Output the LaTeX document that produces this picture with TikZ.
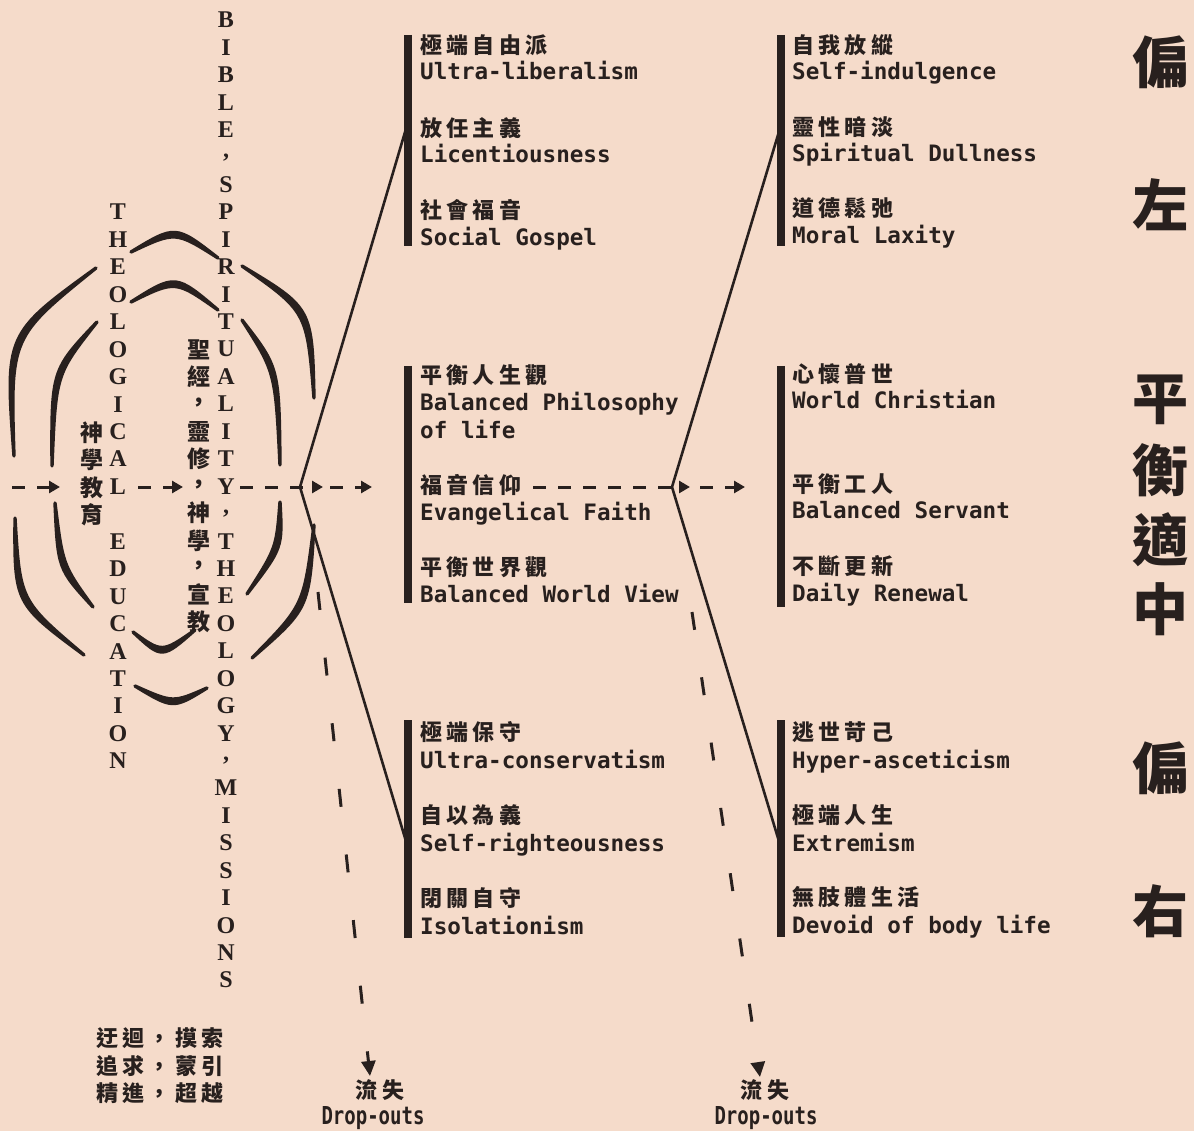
\documentclass[tikz,border=0pt]{standalone}
\usepackage{fontspec}
\usetikzlibrary{arrows.meta}
\setmainfont{Liberation Serif}
\newfontfamily\cjk{Noto Sans CJK TC}
\newfontfamily\cjkl{Noto Sans CJK TC}[LetterSpace=20]
\newfontfamily\mono{DejaVu Sans Mono}
\definecolor{paper}{RGB}{245,219,202}
\definecolor{ink}{RGB}{40,32,30}
\newcommand\zcomma{,}
\begin{document}
\begin{tikzpicture}[x=1pt,y=-1pt,
  capl/.style={font={\bfseries\fontsize{24}{24}\selectfont}, text=ink, inner sep=0pt},
  zhv/.style={font={\cjk\bfseries\fontsize{23}{23}\selectfont}, text=ink, inner sep=0pt},
  zh/.style={font={\cjkl\bfseries\fontsize{22}{22}\selectfont}, text=ink, inner sep=0pt, anchor=west},
  zhc/.style={font={\cjkl\bfseries\fontsize{22}{22}\selectfont}, text=ink, inner sep=0pt},
  en/.style={font={\mono\bfseries\fontsize{22.6}{22}\selectfont}, text=ink, inner sep=0pt, anchor=base west},
  big/.style={font={\cjk\bfseries\fontsize{56}{56}\selectfont}, text=ink, inner sep=0pt},
  dro/.style={font={\mono\bfseries\fontsize{19}{19}\selectfont}, text=ink, inner sep=0pt},
  barline/.style={line width=8pt, draw=ink},
  vline/.style={line width=2.6pt, draw=ink},
  hd/.style={line width=3pt, draw=ink, dash pattern=on 13pt off 12pt, -{Triangle[length=11pt,width=12pt]}},
  dd/.style={line width=3pt, draw=ink, dash pattern=on 18pt off 48pt, -{Triangle[length=15pt,width=14pt]}},
  brush/.style={fill=ink, draw=ink, line width=3.4pt, line join=round, line cap=round},
]
\fill[paper] (0,0) rectangle (1194,1131);
\useasboundingbox (0,0) rectangle (1194,1131);

% ---- vertical Latin columns
\foreach \c [count=\i from 0] in {T,H,E,O,L,O,G,I,C,A,L}
  \node[capl] (te\i) at (118,212+27.45*\i) {\c};
\foreach \c [count=\i from 0] in {E,D,U,C,A,T,I,O,N}
  \node[capl] (ed\i) at (118,541.4+27.45*\i) {\c};
\foreach \c [count=\i from 0] in {B,I,B,L,E,\zcomma,S,P,I,R,I,T,U,A,L,I,T,Y,\zcomma,T,H,E,O,L,O,G,Y,\zcomma,M,I,S,S,I,O,N,S}
  \node[capl] (bb\i) at (226,20+27.43*\i) {\c};

% ---- vertical Chinese columns
\foreach \c [count=\i from 0] in {神,學,教,育}
  \node[zhv] (sx\i) at (92,433+27.2*\i) {\c};
\foreach \c [count=\i from 0] in {聖,經,，,靈,修,，,神,學,，,宣,教}
  \node[zhv] (sj\i) at (199,350+27.2*\i) {\c};

% ---- brush arcs
\fill[brush] (131,252) .. controls (175.5,225) .. (218,258) .. controls (175.5,231) .. (131,252) -- cycle;
\fill[brush] (131,302) .. controls (175.5,274) .. (218,310) .. controls (175.5,280) .. (131,302) -- cycle;
\fill[brush] (133,632) .. controls (162,659) .. (195,630) .. controls (162,653) .. (133,632) -- cycle;
\fill[brush] (135,686) .. controls (173,709) .. (207,688) .. controls (173,703) .. (135,686) -- cycle;
\fill[brush] (96,268) .. controls (5,334) .. (14,456) .. controls (10.3,337) .. (96,268) -- cycle;
\fill[brush] (97,322) .. controls (51.5,370) .. (52,466) .. controls (55.7,374.3) .. (97,322) -- cycle;
\fill[brush] (15,518) .. controls (14.5,603.5) .. (84,655) .. controls (19.9,600.8) .. (15,518) -- cycle;
\fill[brush] (55,503) .. controls (58,569) .. (93,607) .. controls (62.6,565) .. (55,503) -- cycle;
\fill[brush] (242,266) .. controls (312,308) .. (314,398) .. controls (307.1,311.5) .. (242,266) -- cycle;
\fill[brush] (242,320) .. controls (279,367.5) .. (280,465) .. controls (275.5,372.3) .. (242,320) -- cycle;
\fill[brush] (280,502) .. controls (282.5,548) .. (247,594) .. controls (276.5,548) .. (280,502) -- cycle;
\fill[brush] (314,525) .. controls (309,608.5) .. (252,658) .. controls (304,605.3) .. (314,525) -- cycle;

% ---- bars
\coordinate (l1t) at (408,35);  \coordinate (l1b) at (408,246);
\coordinate (l2t) at (408,366); \coordinate (l2b) at (408,603);
\coordinate (l3t) at (408,720); \coordinate (l3b) at (408,938);
\coordinate (r1t) at (781,35);  \coordinate (r1b) at (781,246);
\coordinate (r2t) at (781,366); \coordinate (r2b) at (781,607);
\coordinate (r3t) at (781,720); \coordinate (r3b) at (781,937);
\draw[barline] (l1t) -- (l1b);
\draw[barline] (l2t) -- (l2b);
\draw[barline] (l3t) -- (l3b);
\draw[barline] (r1t) -- (r1b);
\draw[barline] (r2t) -- (r2b);
\draw[barline] (r3t) -- (r3b);

% ---- V lines
\coordinate (vL) at (300,487);
\coordinate (vR) at (672,487);
\coordinate (jl1) at (408,122);
\coordinate (jl3) at (408,848);
\coordinate (jr1) at (781,125);
\coordinate (jr3) at (781,848);
\draw[vline] (jl1) -- (vL) -- (jl3);
\draw[vline] (jr1) -- (vR) -- (jr3);

% ---- labels, left column
\node[zh] (a1z) at (420,45) {極端自由派};
\node[en] (a1e) at (420,80) {Ultra-liberalism};
\node[zh] (a2z) at (420,128) {放任主義};
\node[en] (a2e) at (420,163) {Licentiousness};
\node[zh] (a3z) at (420,210) {社會福音};
\node[en] (a3e) at (420,246) {Social Gospel};
\node[zh] (b1z) at (420,375) {平衡人生觀};
\node[en] (b1e) at (420,410) {Balanced Philosophy};
\node[en] (b1f) at (420,438) {of life};
\node[zh] (b2z) at (420,485) {福音信仰};
\node[en] (b2e) at (420,520) {Evangelical Faith};
\node[zh] (b3z) at (420,567) {平衡世界觀};
\node[en] (b3e) at (420,602) {Balanced World View};
\node[zh] (c1z) at (420,732) {極端保守};
\node[en] (c1e) at (420,768) {Ultra-conservatism};
\node[zh] (c2z) at (420,815) {自以為義};
\node[en] (c2e) at (420,851) {Self-righteousness};
\node[zh] (c3z) at (420,898) {閉關自守};
\node[en] (c3e) at (420,934) {Isolationism};

% ---- labels, right column
\node[zh] (d1z) at (792,45) {自我放縱};
\node[en] (d1e) at (792,80) {Self-indulgence};
\node[zh] (d2z) at (792,127) {靈性暗淡};
\node[en] (d2e) at (792,162) {Spiritual Dullness};
\node[zh] (d3z) at (792,208) {道德鬆弛};
\node[en] (d3e) at (792,244) {Moral Laxity};
\node[zh] (e1z) at (792,374) {心懷普世};
\node[en] (e1e) at (792,409) {World Christian};
\node[zh] (e2z) at (792,484) {平衡工人};
\node[en] (e2e) at (792,518) {Balanced Servant};
\node[zh] (e3z) at (792,566) {不斷更新};
\node[en] (e3e) at (792,601) {Daily Renewal};
\node[zh] (f1z) at (792,732) {逃世苛己};
\node[en] (f1e) at (792,768) {Hyper-asceticism};
\node[zh] (f2z) at (792,815) {極端人生};
\node[en] (f2e) at (792,851) {Extremism};
\node[zh] (f3z) at (792,897) {無肢體生活};
\node[en] (f3e) at (792,933) {Devoid of body life};

% ---- horizontal dashed flow
\coordinate (h0) at (12,487);   \coordinate (h1) at (60,487);
\coordinate (h2) at (138,487);  \coordinate (h3) at (183,487);
\coordinate (h4) at (240,487);  \coordinate (h5) at (323,487);
\coordinate (h6) at (330,487);  \coordinate (h7) at (372,487);
\coordinate (h8) at (533,487);  \coordinate (h9) at (690,487);
\coordinate (h10) at (700,487); \coordinate (h11) at (745,487);
\draw[hd] (h0) -- (h1);
\draw[hd] (h2) -- (h3);
\draw[hd] (h4) -- (h5);
\draw[hd] (h6) -- (h7);
\draw[hd] (h8) -- (h9);
\draw[hd] (h10) -- (h11);

% ---- drop-outs
\coordinate (ds1) at (318,592);  \coordinate (de1) at (370,1076);
\coordinate (ds2) at (692,612);  \coordinate (de2) at (760,1077);
\draw[dd] (ds1) -- (de1);
\draw[dd] (ds2) -- (de2);
\node[zhc] (lz1) at (380,1090) {流失};
\node[dro] (lo1) at (373,1118) {\scalebox{1}[1.3]{Drop-outs}};
\node[zhc] (lz2) at (765,1090) {流失};
\node[dro] (lo2) at (766,1118) {\scalebox{1}[1.3]{Drop-outs}};

% ---- bottom-left text
\node[zhc] (q1) at (160,1038) {迂迴，摸索};
\node[zhc] (q2) at (160,1066) {追求，蒙引};
\node[zhc] (q3) at (160,1093) {精進，超越};

% ---- right large characters
\node[big] (g1) at (1160,62) {偏};
\node[big] (g2) at (1160,205) {左};
\node[big] (g3) at (1160,400) {平};
\node[big] (g4) at (1160,470) {衡};
\node[big] (g5) at (1160,540) {適};
\node[big] (g6) at (1160,609) {中};
\node[big] (g7) at (1160,768) {偏};
\node[big] (g8) at (1160,911) {右};
\end{tikzpicture}
\end{document}
